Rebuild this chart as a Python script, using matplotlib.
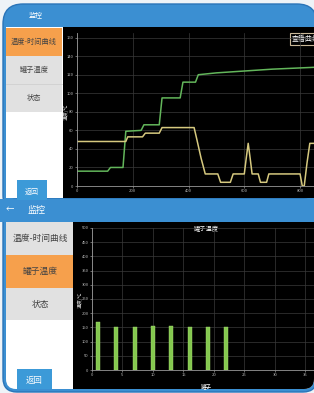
import matplotlib
matplotlib.use('Agg')
import matplotlib.pyplot as plt
from matplotlib.patches import Rectangle, FancyBboxPatch

plt.rcParams['font.family'] = ['Noto Sans CJK SC', 'DejaVu Sans']

W, H = 314, 393

# top chart: temperature vs time (two traces)
time_green = [0, 110, 120, 165, 175, 230, 240, 295, 305, 370, 380, 425, 435, 500, 600, 700, 850]
temp_green = [16, 16, 20, 20, 59, 60, 66, 66, 95, 95, 112, 112, 120, 122, 124, 126, 128]
time_yellow = [0, 175, 182, 235, 245, 295, 305, 420, 430, 445, 460, 505, 515, 550, 560, 600,
               607, 614, 621, 628, 650, 658, 680, 688, 800, 808, 815, 825, 835, 850]
temp_yellow = [48, 48, 53, 53, 57, 57, 63, 63, 50, 30, 13, 13, 4, 4, 13, 13,
               30, 46, 30, 13, 13, 4, 4, 13, 13, 0, 0, 25, 46, 46]
top_yticks = [0, 20, 40, 60, 80, 100, 120, 140, 160]
top_xticks = [0, 200, 400, 600, 800]

# bottom chart: tank temperatures
tank_ids = [1, 4, 7, 10, 13, 16, 19, 22]
tank_temps = [170, 150, 150, 155, 155, 150, 153, 152]
bot_yticks = [0, 50, 100, 150, 200, 250, 300, 350, 400, 450, 500]
bot_xticks = [0, 5, 10, 15, 20, 25, 30, 35]

menu_items = ['温度-时间曲线', '罐子温度', '状态']

BLUE = '#3b8fd2'
ORANGE = '#f6a04c'
GRAY = '#e1e1e1'

fig = plt.figure(figsize=(W / 100, H / 100), dpi=100, facecolor='#eef3f7')

# background layer in pixel coordinates
bg = fig.add_axes([0, 0, 1, 1], zorder=0)
bg.set_xlim(0, W)
bg.set_ylim(H, 0)
bg.axis('off')

def box(x0, y0, x1, y1, color, r=0, ec='none', lw=0, z=1, clip=None):
    if r:
        p = FancyBboxPatch((x0, y0), x1 - x0, y1 - y0, boxstyle='round,pad=0,rounding_size=%g' % r,
                           fc=color, ec=ec, lw=lw, zorder=z)
    else:
        p = Rectangle((x0, y0), x1 - x0, y1 - y0, fc=color, ec=ec, lw=lw, zorder=z)
    bg.add_patch(p)
    if clip is not None:
        p.set_clip_path(clip)
    return p

def txt(x, y, s, size, color='#444444', **kw):
    bg.text(x, y, s, fontsize=size, color=color, ha=kw.pop('ha', 'center'), va='center', zorder=10, **kw)

# ---- top panel ----
top = box(3, 4, 317, 215, BLUE, r=20, ec='#2a74b8', lw=1)
box(6, 27, 314, 198, 'white', z=2, clip=top)
box(63, 27, 314, 198, 'black', z=3, clip=top)
txt(36, 15, '监控', 5, 'white')
box(6, 28, 62, 56, ORANGE, z=4)
box(6, 56, 62, 84, GRAY, z=4)
box(6, 84, 62, 112, GRAY, z=4)
bg.plot([6, 62], [84, 84], color='#cccccc', lw=0.5, zorder=5)
txt(34, 42, menu_items[0], 5.2, '#444444')
txt(34, 70, menu_items[1], 5.2)
txt(34, 98, menu_items[2], 5.2)
box(17, 180, 47, 200, '#3c9ad8', z=4)
txt(32, 192, '返回', 5, 'white')
txt(66, 112, '温度/℃', 3.5, '#cccccc', rotation=90)
bg.text(292, 39, '查看曲线', fontsize=5, color='white', va='center', ha='left', zorder=10,
        bbox=dict(boxstyle='square,pad=0.25', fc='black', ec='#c9b898', lw=0.8))

# ---- bottom panel ----
bottom = box(3, 199, 317, 392, BLUE, r=14, ec='#2a74b8', lw=1)
box(0, 199, 314, 222, BLUE, z=2)
inner = box(6, 212, 314, 389, 'white', r=10, z=2)
box(73, 222, 314, 389, 'black', z=3, clip=inner)
box(0, 199, 314, 222, BLUE, z=3)
txt(10, 210, '←', 6, 'white')
txt(37, 210, '监控', 6.5, 'white')
box(6, 222, 73, 255, GRAY, z=4)
box(6, 255, 73, 288, ORANGE, z=4)
box(6, 288, 73, 320, GRAY, z=4)
txt(40, 238, menu_items[0], 6.3)
txt(40, 271, menu_items[1], 6.3, '#444444')
txt(40, 304, menu_items[2], 6.3)
box(17, 369, 52, 391, '#3c9ad8', z=4, clip=inner)
txt(34, 381, '返回', 6, 'white')
txt(206, 229, '罐子温度', 4.5, 'white')
txt(206, 386, '罐子', 4, 'white')
txt(80, 300, '温度/℃', 3.5, '#cccccc', rotation=90)

def style(ax, xt, yt):
    ax.set_facecolor('none')
    ax.set_xticks(xt)
    ax.set_yticks(yt)
    ax.tick_params(labelsize=3, colors='#bbbbbb', length=1.5, width=0.4, pad=1)
    ax.grid(True, color='#3a3a3a', lw=0.5)
    ax.set_axisbelow(True)
    for s in ('top', 'right'):
        ax.spines[s].set_visible(False)
    for s in ('left', 'bottom'):
        ax.spines[s].set_color('#999999')
        ax.spines[s].set_linewidth(0.6)

def pax(x0, y0, x1, y1, z=5):
    return fig.add_axes([x0 / W, 1 - y1 / H, (x1 - x0) / W, (y1 - y0) / H], zorder=z)

ax1 = pax(77, 33, 314, 186)
style(ax1, top_xticks, top_yticks)
ax1.plot(time_green, temp_green, color='#63b65b', lw=1.1)
ax1.plot(time_yellow, temp_yellow, color='#d6c97f', lw=1.1)
ax1.set_xlim(0, 850)
ax1.set_ylim(0, 165)

ax2 = pax(92, 228, 314, 370)
style(ax2, bot_xticks, bot_yticks)
ax2.bar(tank_ids, tank_temps, width=0.65, color='#84c84f', edgecolor='#a6dc72', lw=0.3)
ax2.set_xlim(0, 36.4)
ax2.set_ylim(0, 500)

fig.savefig('out.png', dpi=100, facecolor=fig.get_facecolor())
